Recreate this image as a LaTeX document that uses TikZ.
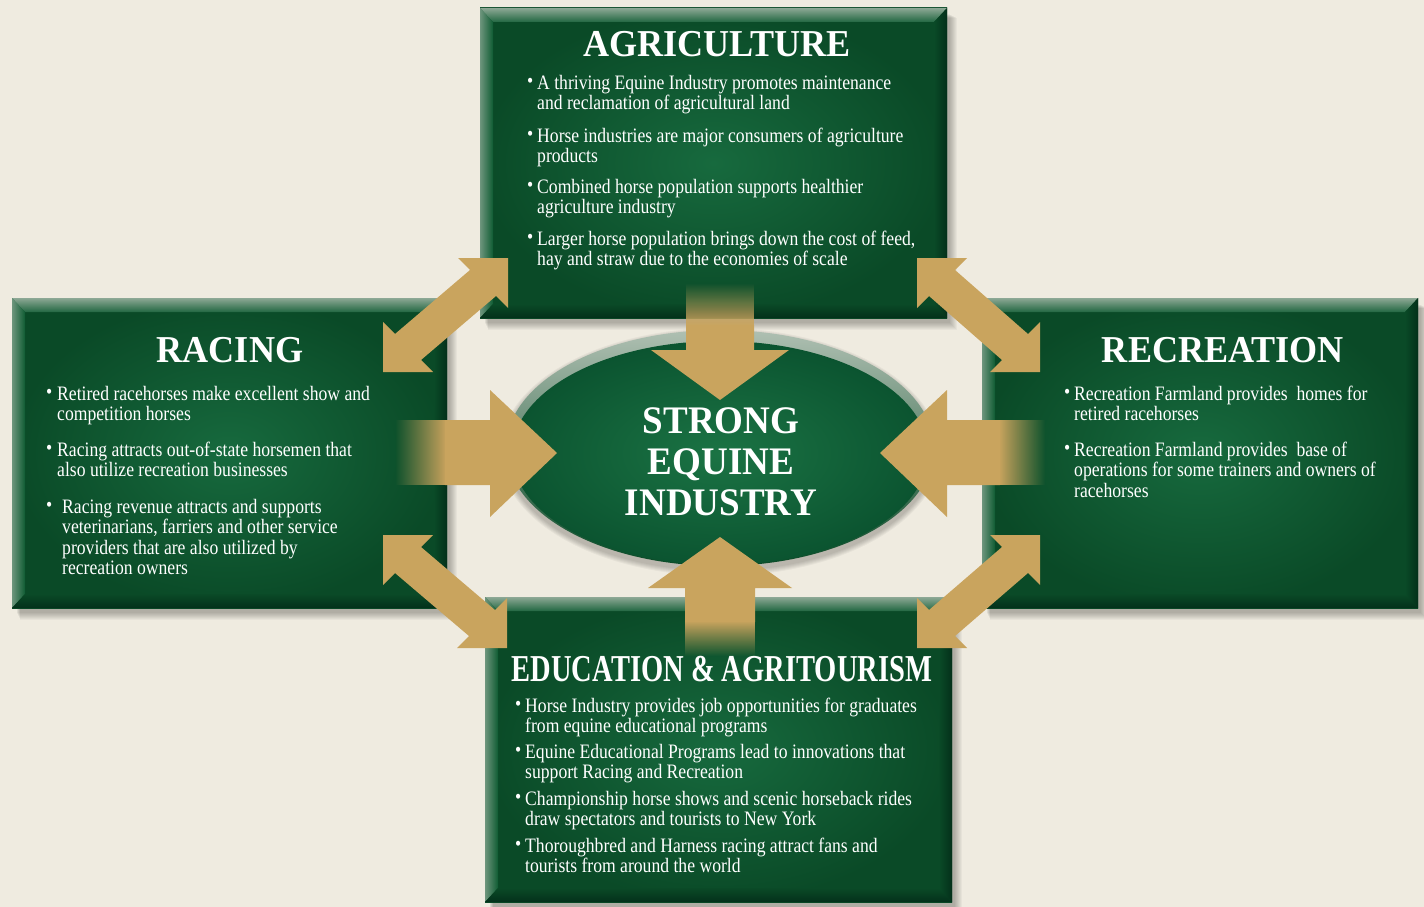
\documentclass[tikz,border=0pt]{standalone}
\usepackage{fontspec}
\usepackage{graphicx}
\usetikzlibrary{shapes.geometric,calc,fadings}
\setmainfont{Liberation Serif}
\newfontfamily\bodyfont[FakeStretch=0.86]{Liberation Serif}
\newfontfamily\headfont[FakeStretch=0.95]{Liberation Serif}

\definecolor{bg}{HTML}{EFEBE0}
\definecolor{pgreen}{HTML}{0F5C33}
\definecolor{pgreenlight}{HTML}{176A3E}
\definecolor{pgreendark}{HTML}{0A4A27}
\definecolor{bevlight}{HTML}{8DA895}
\definecolor{bevdark}{HTML}{03301A}
\definecolor{tanarrow}{HTML}{C9A45E}
\definecolor{rimlight}{HTML}{AFC0B2}
\definecolor{coreinner}{HTML}{1B7344}
\definecolor{coreouter}{HTML}{0B5430}

\pgfdeclarelayer{back}
\pgfdeclarelayer{shade}
\pgfsetlayers{back,shade,main}

% bullet item: small raised dot followed by the lines of the item
\newcommand{\bitem}[2][10pt]{\makebox[#1][l]{\raisebox{0.12ex}{\scalebox{1.0}{\textbullet}}}\begin{tabular}[t]{@{}l@{}}#2\end{tabular}}

% soft drop shadow below and right of a panel
\newcommand{\panelshadow}[1]{%
  \begin{pgfonlayer}{shade}
  \foreach \s in {1,...,8}{
    \fill[black, opacity=0.035]
      ($(#1.north west)+(4+\s/2,6+\s/2)$) rectangle ($(#1.south east)+(2+\s,4+\s)$);
  }
  \end{pgfonlayer}
}

% bevelled frame around a panel node
\newcommand{\panelbevel}[1]{%
  \shade[top color=bevlight, bottom color=pgreen!85!bevlight]
    (#1.north west) -- (#1.north east) -- ($(#1.north east)+(-13,14)$) -- ($(#1.north west)+(13,14)$) -- cycle;
  \shade[left color=bevlight!75!pgreen, right color=pgreen]
    (#1.north west) -- ($(#1.north west)+(13,14)$) -- ($(#1.south west)+(13,-14)$) -- (#1.south west) -- cycle;
  \shade[left color=pgreendark, right color=bevdark]
    (#1.north east) -- (#1.south east) -- ($(#1.south east)+(-13,-14)$) -- ($(#1.north east)+(-13,14)$) -- cycle;
  \shade[top color=pgreendark, bottom color=bevdark]
    (#1.south west) -- (#1.south east) -- ($(#1.south east)+(-13,-14)$) -- ($(#1.south west)+(13,-14)$) -- cycle;
  \panelshadow{#1}
}

\begin{document}
\begin{tikzpicture}[x=1pt,y=-1pt,
  panel/.style={rectangle, inner sep=0, outer sep=0,
    inner color=pgreenlight, outer color=pgreendark},
  head/.style={text=white, font=\headfont\bfseries\fontsize{38}{38}\selectfont, inner sep=0, anchor=base},
  corehead/.style={head, font=\headfont\bfseries\fontsize{39}{39}\selectfont},
  body/.style={text=white, font=\bodyfont\fontsize{20.5}{20.5}\selectfont, inner sep=0, anchor=base west},
  arrowfill/.style={fill=tanarrow}
]
\begin{pgfonlayer}{back}
\fill[bg] (0,0) rectangle (1424,907);
\end{pgfonlayer}
\useasboundingbox (0,0) rectangle (1424,907);

% the four panels
\node[panel, minimum width=467, minimum height=310] (agri) at (713.5,163) {};
\node[panel, minimum width=435, minimum height=310] (racing) at (229.5,453) {};
\node[panel, minimum width=436, minimum height=310] (recre) at (1200,453) {};
\node[panel, minimum width=467, minimum height=305] (edu) at (718.5,749.5) {};
\panelbevel{agri}
\panelbevel{racing}
\panelbevel{recre}
\panelbevel{edu}

% central ellipse with its pale rim
\node[ellipse, minimum width=428, minimum height=236, top color=rimlight, bottom color=pgreendark] (halo) at (720,448) {};
\node[ellipse, minimum width=416, minimum height=224, inner color=coreinner, outer color=coreouter] (core) at (720,453) {};
\begin{pgfonlayer}{shade}
\foreach \s in {1,...,6}{
  \fill[black, opacity=0.04] (720,452) ellipse ({214+\s} and {118+\s});
}
\end{pgfonlayer}

% straight arrows into the centre
\fill[tanarrow, path fading=north] (686,283) rectangle (754,326);
\fill[arrowfill] (686,325) -- (754,325) -- (754,350) -- (789,350) -- (720,400) -- (651,350) -- (686,350) -- cycle;

\fill[tanarrow, path fading=south] (685,621) rectangle (755,656);
\fill[arrowfill] (685,622) -- (685,588) -- (648,588) -- (720,537) -- (792,588) -- (755,588) -- (755,622) -- cycle;

\fill[tanarrow, path fading=west] (395,420) rectangle (446,485);
\fill[arrowfill] (445,420) -- (490,420) -- (490,390) -- (557,453) -- (490,517) -- (490,485) -- (445,485) -- cycle;

\fill[tanarrow, path fading=east] (999,420) rectangle (1045,485);
\fill[arrowfill] (1000,420) -- (947,420) -- (947,390) -- (880,453) -- (947,517) -- (947,485) -- (1000,485) -- cycle;

% double-headed diagonal arrows between neighbouring panels
\fill[arrowfill] (383,372) -- (433,372) -- (421,360) -- (496,296) -- (508,308) -- (508,258) -- (458,258) -- (470,270) -- (395,334) -- (383,322) -- cycle;
\fill[arrowfill] (917,258) -- (967,258) -- (955,270) -- (1028,334) -- (1040,322) -- (1040,372) -- (990,372) -- (1002,360) -- (929,296) -- (917,308) -- cycle;
\fill[arrowfill] (383,535) -- (433,535) -- (421,547) -- (495,610) -- (507,598) -- (507,648) -- (457,648) -- (469,636) -- (395,573) -- (383,585) -- cycle;
\fill[arrowfill] (917,648) -- (967,648) -- (955,636) -- (1028,573) -- (1040,585) -- (1040,535) -- (990,535) -- (1002,547) -- (929,610) -- (917,598) -- cycle;

% centre text
\node[corehead] (core1) at (721,433) {STRONG};
\node[corehead] (core2) at (721,474) {EQUINE};
\node[corehead] (core3) at (721,515) {INDUSTRY};

% agriculture
\node[head] (agriT) at (717,57) {AGRICULTURE};
\node[body] (agri1) at (527,89) {\bitem{A thriving Equine Industry promotes maintenance\\and reclamation of agricultural land}};
\node[body] (agri2) at (527,142) {\bitem{Horse industries are major consumers of agriculture\\products}};
\node[body] (agri3) at (527,193) {\bitem{Combined horse population supports healthier\\agriculture industry}};
\node[body] (agri4) at (527,245) {\bitem{Larger horse population brings down the cost of feed,\\hay and straw due to the economies of scale}};

% racing
\node[head] (racingT) at (230,362) {RACING};
\node[body] (racing1) at (46,400) {\bitem[11pt]{Retired racehorses make excellent show and\\competition horses}};
\node[body] (racing2) at (46,456) {\bitem[11pt]{Racing attracts out-of-state horsemen that\\also utilize recreation businesses}};
\node[body] (racing3) at (46,513) {\bitem[16pt]{Racing revenue attracts and supports\\veterinarians, farriers and other service\\providers that are also utilized by\\recreation owners}};

% recreation
\node[head] (recreT) at (1223,362) {RECREATION};
\node[body] (recre1) at (1064,400) {\bitem[10pt]{Recreation Farmland provides\ \ homes for\\retired racehorses}};
\node[body] (recre2) at (1064,456) {\bitem[10pt]{Recreation Farmland provides\ \ base of\\operations for some trainers and owners of\\racehorses}};

% education and agritourism
\node[head] (eduT) at (722,681) {\scalebox{0.79}[1]{EDUCATION \& AGRITOURISM}};
\node[body] (edu1) at (515,712) {\bitem[10pt]{Horse Industry provides job opportunities for graduates\\from equine educational programs}};
\node[body] (edu2) at (515,758) {\bitem[10pt]{Equine Educational Programs lead to innovations that\\support Racing and Recreation}};
\node[body] (edu3) at (515,805) {\bitem[10pt]{Championship horse shows and scenic horseback rides\\draw spectators and tourists to New York}};
\node[body] (edu4) at (515,852) {\bitem[10pt]{Thoroughbred and Harness racing attract fans and\\tourists from around the world}};
\end{tikzpicture}
\end{document}
